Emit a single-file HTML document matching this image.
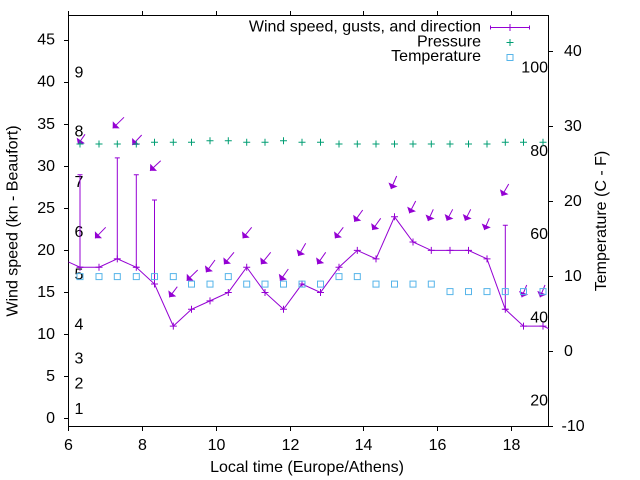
<!DOCTYPE html>
<html><head><meta charset="utf-8"><style>html,body{margin:0;padding:0;background:#fff;}svg{display:block;}</style></head>
<body>
<svg xmlns="http://www.w3.org/2000/svg" width="640" height="480" viewBox="0 0 640 480" font-family="'Liberation Sans', Arial, sans-serif" font-size="16" fill="#000">
<rect width="640" height="480" fill="#fff"/>
<defs>
<clipPath id="c"><rect x="68.5" y="15.5" width="480" height="411"/></clipPath>
<marker id="ah" markerUnits="userSpaceOnUse" markerWidth="14" markerHeight="14" viewBox="-7 -7 14 14" refX="0" refY="0" orient="auto"><path d="M0,0 L-4.95,-4.95 L-4.95,4.95 Z" fill="#9400d3"/></marker>
</defs>

<!-- Beaufort labels -->
<g>
<text x="74.5" y="413.8">1</text><text x="74.5" y="388.6">2</text><text x="74.5" y="363.3">3</text>
<text x="74.5" y="329.7">4</text><text x="74.5" y="279.3">5</text><text x="74.5" y="237.2">6</text>
<text x="74.5" y="186.8">7</text><text x="74.5" y="136.3">8</text><text x="74.5" y="77.4">9</text>
</g>
<!-- Fahrenheit labels -->
<g text-anchor="end">
<text x="548" y="72.6">100</text><text x="548" y="155.9">80</text><text x="548" y="239.2">60</text>
<text x="548" y="322.4">40</text><text x="548" y="405.7">20</text>
</g>

<!-- border and ticks -->
<g stroke="#000" stroke-width="1" fill="none">
<rect x="68.5" y="15.5" width="480" height="411"/>
<path d="M64,418.5H68.5M64,376.5H68.5M64,334.5H68.5M64,292.5H68.5M64,250.5H68.5M64,208.5H68.5M64,166.5H68.5M64,124.5H68.5M64,82.5H68.5M64,40.5H68.5"/>
<path d="M548.5,426.5H553M548.5,351.5H553M548.5,276.5H553M548.5,201.5H553M548.5,126.5H553M548.5,51.5H553"/>
<path d="M68.5,426.5V431M142.5,426.5V431M216.5,426.5V431M290.5,426.5V431M363.5,426.5V431M437.5,426.5V431M511.5,426.5V431"/>
<path d="M68.5,15.5V11M142.5,15.5V11M216.5,15.5V11M290.5,15.5V11M363.5,15.5V11M437.5,15.5V11M511.5,15.5V11"/>
</g>

<!-- left tick labels -->
<g text-anchor="end">
<text x="55" y="423.1">0</text><text x="55" y="381.1">5</text><text x="55" y="339">10</text>
<text x="55" y="297">15</text><text x="55" y="254.9">20</text><text x="55" y="212.9">25</text>
<text x="55" y="170.8">30</text><text x="55" y="128.8">35</text><text x="55" y="86.7">40</text>
<text x="55" y="44.7">45</text>
</g>
<!-- right tick labels -->
<g>
<text x="561.5" y="430.8">-10</text><text x="564" y="355.9">0</text><text x="564" y="280.9">10</text>
<text x="564" y="206">20</text><text x="564" y="131">30</text><text x="564" y="56">40</text>
</g>
<!-- bottom tick labels -->
<g text-anchor="middle">
<text x="68.5" y="450">6</text><text x="142.5" y="450">8</text><text x="216.5" y="450">10</text>
<text x="290.5" y="450">12</text><text x="363.5" y="450">14</text><text x="437.5" y="450">16</text>
<text x="511.5" y="450">18</text>
</g>

<!-- axis labels -->
<text x="307" y="472" text-anchor="middle">Local time (Europe/Athens)</text>
<text transform="translate(17.3,221) rotate(-90)" text-anchor="middle">Wind speed (kn - Beaufort)</text>
<text transform="translate(606,221) rotate(-90)" text-anchor="middle">Temperature (C - F)</text>

<!-- data -->
<g clip-path="url(#c)" fill="none" stroke-width="1">
<!-- wind line -->
<polyline stroke="#9400d3" points="61.5,258.83 80,267.24 99,267.24 117.3,258.83 136.3,267.24 154.5,284.06 173.3,326.1 191.5,309.28 210,300.87 228.3,292.47 246.7,267.24 265,292.47 283.5,309.28 302,284.06 320.5,292.47 339,267.24 357.3,250.42 376,258.83 394.5,216.78 413,242.01 431.3,250.42 450,250.42 468.5,250.42 487,258.83 505.3,309.28 523.5,326.1 543,326.1 561.5,334.51"/>
<!-- wind markers -->
<path stroke="#9400d3" d="M76.5,267.24h7M80,263.74v7M95.5,267.24h7M99,263.74v7M113.8,258.83h7M117.3,255.33v7M132.8,267.24h7M136.3,263.74v7M151,284.06h7M154.5,280.56v7M169.8,326.1h7M173.3,322.6v7M188,309.28h7M191.5,305.78v7M206.5,300.87h7M210,297.37v7M224.8,292.47h7M228.3,288.97v7M243.2,267.24h7M246.7,263.74v7M261.5,292.47h7M265,288.97v7M280,309.28h7M283.5,305.78v7M298.5,284.06h7M302,280.56v7M317,292.47h7M320.5,288.97v7M335.5,267.24h7M339,263.74v7M353.8,250.42h7M357.3,246.92v7M372.5,258.83h7M376,255.33v7M391,216.78h7M394.5,213.28v7M409.5,242.01h7M413,238.51v7M427.8,250.42h7M431.3,246.92v7M446.5,250.42h7M450,246.92v7M465,250.42h7M468.5,246.92v7M483.5,258.83h7M487,255.33v7M501.8,309.28h7M505.3,305.78v7M520,326.1h7M523.5,322.6v7M539.5,326.1h7M543,322.6v7"/>
<!-- gust error bars -->
<path stroke="#9400d3" d="M80,267.24V174.74M77.5,174.74h5M77.5,267.24h5M117.3,258.83V157.92M114.8,157.92h5M114.8,258.83h5M136.3,267.24V174.74M133.8,174.74h5M133.8,267.24h5M154.5,284.06V199.97M152,199.97h5M152,284.06h5M505.3,309.28V225.19M502.8,225.19h5M502.8,309.28h5"/>
<!-- direction arrows -->
<g stroke="#9400d3" marker-end="url(#ah)">
<path d="M85,134.3L78,144.5"/>
<path d="M105.7,227.3L95,238.3"/>
<path d="M124,117.3L112.7,128.3"/>
<path d="M141.7,135L132.3,145"/>
<path d="M160.7,160.7L150,170.7"/>
<path d="M177.3,286.7L169.3,297.3"/>
<path d="M197.7,270L186.7,280.7"/>
<path d="M215,260L206,272.3"/>
<path d="M234,252.3L224,264.3"/>
<path d="M251.7,227.3L242.7,238.3"/>
<path d="M270.7,252.3L261,264.3"/>
<path d="M288.3,269L280,280.7"/>
<path d="M305.7,243.3L298.3,256"/>
<path d="M325.7,252.3L317.3,264.3"/>
<path d="M343.3,227.3L335,238.3"/>
<path d="M362.7,210L354.3,221.7"/>
<path d="M380.7,218.3L372.3,230"/>
<path d="M396.7,176L391,189"/>
<path d="M415.7,201L409.3,213.3"/>
<path d="M433.3,209.3L428,221"/>
<path d="M452.7,209.3L446.7,220.7"/>
<path d="M470.7,209.3L465,220.7"/>
<path d="M489.3,218.3L484.3,230"/>
<path d="M508.7,184L501.7,196"/>
<path d="M526.7,285L521.7,297.3"/>
<path d="M545,285L540,297.3"/>
</g>
<!-- pressure -->
<path stroke="#009e73" d="M76.5,144h7M80,140.5v7M95.5,144h7M99,140.5v7M113.8,144h7M117.3,140.5v7M132.8,144h7M136.3,140.5v7M151,142.3h7M154.5,138.8v7M169.8,142.3h7M173.3,138.8v7M188,142.3h7M191.5,138.8v7M206.5,140.7h7M210,137.2v7M224.8,140.7h7M228.3,137.2v7M243.2,142.3h7M246.7,138.8v7M261.5,142.3h7M265,138.8v7M280,140.7h7M283.5,137.2v7M298.5,142.3h7M302,138.8v7M317,142.3h7M320.5,138.8v7M335.5,144h7M339,140.5v7M353.8,144h7M357.3,140.5v7M372.5,144h7M376,140.5v7M391,144h7M394.5,140.5v7M409.5,144h7M413,140.5v7M427.8,144h7M431.3,140.5v7M446.5,144h7M450,140.5v7M465,144h7M468.5,140.5v7M483.5,144h7M487,140.5v7M501.8,142.3h7M505.3,138.8v7M520,142.3h7M523.5,138.8v7M539.5,142.3h7M543,138.8v7"/>
<!-- temperature -->
<g stroke="#56b4e9">
<rect x="77" y="273.6" width="6" height="6"/><rect x="96" y="273.6" width="6" height="6"/>
<rect x="114.3" y="273.6" width="6" height="6"/><rect x="133.3" y="273.6" width="6" height="6"/>
<rect x="151.5" y="273.6" width="6" height="6"/><rect x="170.3" y="273.6" width="6" height="6"/>
<rect x="188.5" y="281.1" width="6" height="6"/><rect x="207" y="281.1" width="6" height="6"/>
<rect x="225.3" y="273.6" width="6" height="6"/><rect x="243.7" y="281.1" width="6" height="6"/>
<rect x="262" y="281.1" width="6" height="6"/><rect x="280.5" y="281.1" width="6" height="6"/>
<rect x="299" y="281.1" width="6" height="6"/><rect x="317.5" y="281.1" width="6" height="6"/>
<rect x="336" y="273.6" width="6" height="6"/><rect x="354.3" y="273.6" width="6" height="6"/>
<rect x="373" y="281.1" width="6" height="6"/><rect x="391.5" y="281.1" width="6" height="6"/>
<rect x="410" y="281.1" width="6" height="6"/><rect x="428.3" y="281.1" width="6" height="6"/>
<rect x="447" y="288.6" width="6" height="6"/><rect x="465.5" y="288.6" width="6" height="6"/>
<rect x="484" y="288.6" width="6" height="6"/><rect x="502.3" y="288.6" width="6" height="6"/>
<rect x="520.5" y="288.6" width="6" height="6"/><rect x="540" y="288.6" width="6" height="6"/>
</g>
</g>

<!-- legend -->
<g text-anchor="end">
<text x="481" y="31.5">Wind speed, gusts, and direction</text>
<text x="481" y="46.3">Pressure</text>
<text x="481" y="61">Temperature</text>
</g>
<path stroke="#9400d3" fill="none" d="M490,27.5H530M490.5,25.5v4M529.5,25.5v4M510,24v7"/>
<path stroke="#009e73" fill="none" d="M506.5,42.5h7M510,39v7"/>
<rect x="507" y="54.5" width="6" height="6" stroke="#56b4e9" fill="none"/>
</svg>
</body></html>
